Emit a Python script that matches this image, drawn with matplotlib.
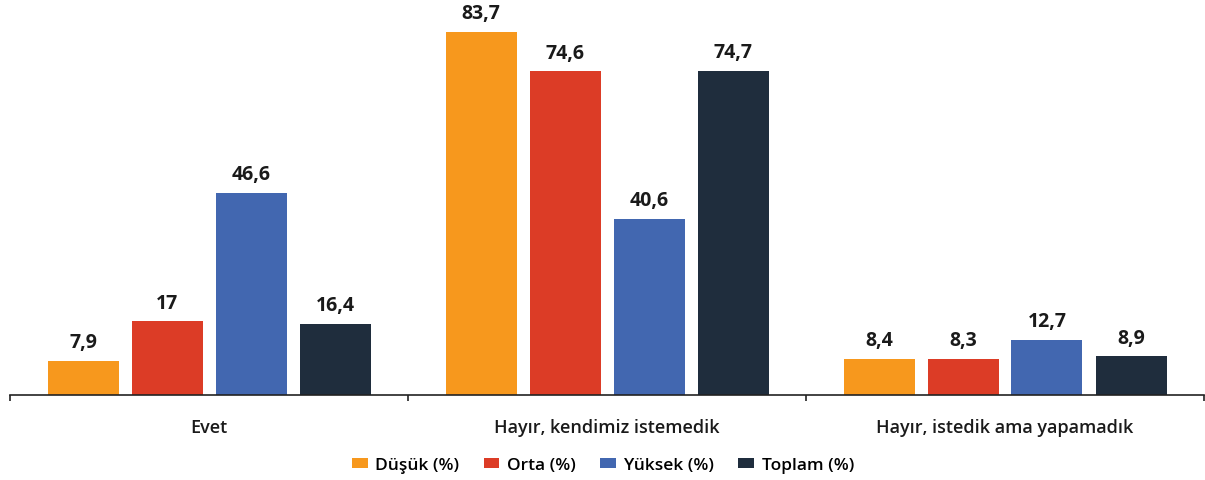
import matplotlib
matplotlib.use("Agg")
import matplotlib.pyplot as plt
from matplotlib.patches import FancyBboxPatch
import numpy as np

categories = ["Evet", "Hayır, kendimiz istemedik", "Hayır, istedik ama yapamadık"]
series_names = ["Düşük (%)", "Orta (%)", "Yüksek (%)", "Toplam (%)"]
dusuk = [7.9, 83.7, 8.4]
orta = [17, 74.6, 8.3]
yuksek = [46.6, 40.6, 12.7]
toplam = [16.4, 74.7, 8.9]
colors = ["#F7981D", "#DC3C26", "#4267B0", "#1F2D3D"]

plt.rcParams['font.family'] = ['Open Sans', 'DejaVu Sans']

fig = plt.figure(figsize=(12.05, 4.81), dpi=100)
ax = fig.add_axes([10/1205, 85/481, 1194/1205, (396-5.7)/481])

x = np.arange(len(categories))
spacing = 84/398
width = 71/398
data = [dusuk, orta, yuksek, toplam]
for i, (vals, name, c) in enumerate(zip(data, series_names, colors)):
    pos = x + (i - 1.5) * spacing
    bars = ax.bar(pos, vals, width=width, color=c, label=name)
    for b, v in zip(bars, vals):
        txt = f"{v:g}".replace(".", ",")
        ax.text(b.get_x() + b.get_width()/2, v + 2.0, txt, ha="center", va="bottom",
                fontsize=14, fontweight="bold", color="#1a1a1a")

ax.set_xlim(-0.5, 2.5)
ax.set_ylim(0, 90)
ax.set_yticks([])
for s in ["top", "right", "left"]:
    ax.spines[s].set_visible(False)
ax.spines["bottom"].set_color("#222222")
ax.spines["bottom"].set_linewidth(1.2)
ax.set_xticks([-0.5, 0.5, 1.5, 2.5])
ax.set_xticklabels([])
ax.tick_params(axis="x", length=4, width=1.2, color="#222222")
for xi, cat in zip(x, categories):
    ax.text(xi, -0.058, cat, transform=ax.get_xaxis_transform(), ha="center", va="top",
            fontsize=13, fontweight="semibold", color="#1a1a1a")

leg = fig.legend(loc="center", bbox_to_anchor=(603/1205, 1 - 466/481), ncol=4, frameon=False,
                 handlelength=0.9, handleheight=0.5, handletextpad=0.45, columnspacing=1.4,
                 prop={"size": 12.5, "weight": "semibold"})

fig.savefig("out.png", dpi=100)
